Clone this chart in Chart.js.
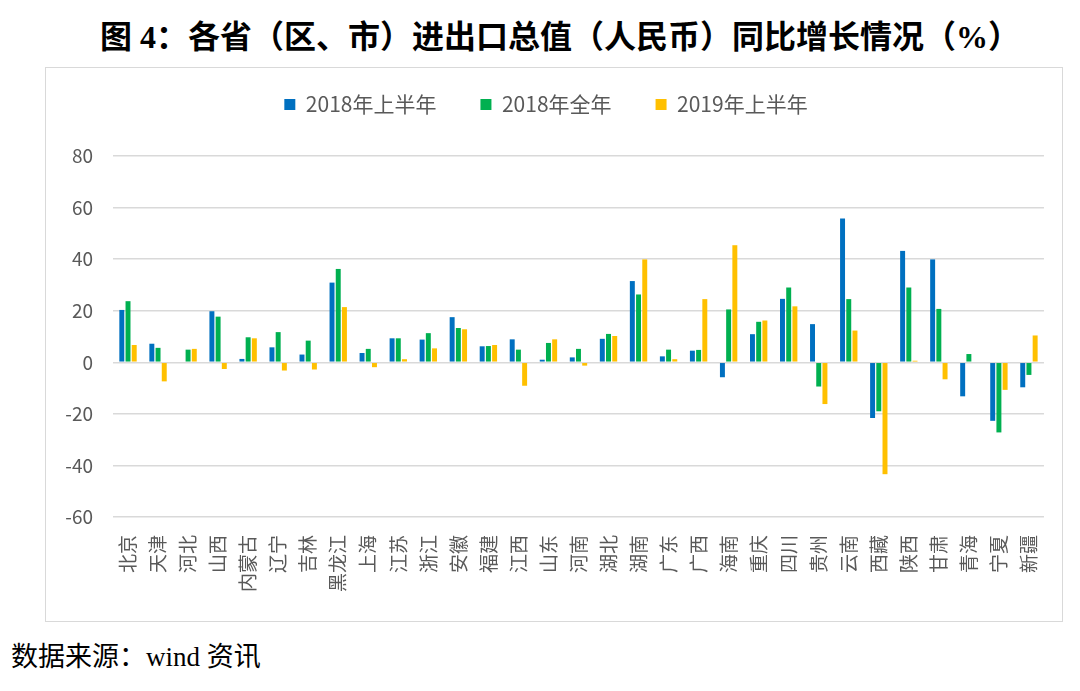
<!DOCTYPE html>
<html>
<head>
<meta charset="utf-8">
<script src="https://cdn.jsdelivr.net/npm/chart.js@4"></script>
<style>
  body { margin: 0; background: #fff; width: 1080px; height: 691px; position: relative; overflow: hidden; }
  #title { position: absolute; left: 0; width: 1120px; top: 11px; text-align: center;
           font-family: "Liberation Serif", "Noto Sans CJK SC"; font-weight: bold; font-size: 32px; color: #000; }
  #box { position: absolute; left: 45px; top: 67px; width: 1016px; height: 553px; border: 1px solid #d9d9d9; }
  #wrap { position: absolute; left: 0; top: -18px; width: 1016px; height: 571px; }
  #source { position: absolute; left: 11px; top: 635px; font-family: "Liberation Serif", "Noto Sans CJK SC"; font-size: 27px; color: #000; }
</style>
</head>
<body>
<div id="title">图 4：各省（区、市）进出口总值（人民币）同比增长情况（%）</div>
<div id="box"><div id="wrap"><canvas id="chart"></canvas></div></div>
<div id="source">数据来源：wind 资讯</div>
<script>
// categories and series (%)
const provinces = ['北京', '天津', '河北', '山西', '内蒙古', '辽宁', '吉林', '黑龙江', '上海', '江苏', '浙江',
  '安徽', '福建', '江西', '山东', '河南', '湖北', '湖南', '广东', '广西', '海南', '重庆', '四川', '贵州',
  '云南', '西藏', '陕西', '甘肃', '青海', '宁夏', '新疆'];
const h1_2018 = [20.3, 7.2, 0, 19.8, 1.3, 5.8, 3.0, 30.9, 3.6, 9.3, 8.8, 17.5, 6.2, 8.9, 1.0, 1.9, 9.1, 31.5,
  2.3, 4.5, -5.8, 10.9, 24.6, 14.8, 55.8, -21.6, 43.2, 39.9, -13.2, -22.7, -9.7];
const full_2018 = [23.7, 5.6, 4.9, 17.7, 9.7, 11.7, 8.4, 36.2, 5.2, 9.3, 11.3, 13.3, 6.3, 4.9, 7.5, 5.2, 11.0, 26.3,
  4.9, 4.8, 20.5, 15.7, 29.0, -9.4, 24.5, -19.0, 29.0, 20.7, 3.2, -27.2, -4.9];
const h1_2019 = [6.7, -7.4, 5.2, -2.6, 9.3, -3.2, -2.8, 21.4, -1.9, 1.2, 5.4, 12.8, 6.7, -9.1, 8.9, -1.3, 10.2, 39.9,
  1.2, 24.5, 45.4, 16.2, 21.7, -16.2, 12.3, -43.4, 0.6, -6.6, 0, -10.7, 10.4];
const seriesNames = ['2018年上半年', '2018年全年', '2019年上半年'];
const yTicks = [-60, -40, -20, 0, 20, 40, 60, 80];

const colors = ['#0070C0', '#00B050', '#FFC000'];
const cjk = '"Noto Sans CJK SC", sans-serif';

// push the plot area down below the legend
const legendGap = {
  id: 'legendGap',
  beforeInit(chart) {
    const fit = chart.legend.fit;
    chart.legend.fit = function () {
      fit.bind(chart.legend)();
      this.height += 31;
    };
  }
};

const ctx = document.getElementById('chart').getContext('2d');
new Chart(ctx, {
  type: 'bar',
  data: {
    labels: provinces,
    datasets: [h1_2018, full_2018, h1_2019].map((d, i) => ({
      label: seriesNames[i],
      data: d,
      backgroundColor: colors[i],
      borderWidth: 0,
      categoryPercentage: 0.62,
      barPercentage: 0.8
    }))
  },
  options: {
    responsive: true,
    maintainAspectRatio: false,
    animation: false,
    layout: { padding: { left: 0, right: 16, top: 0, bottom: 0 } },
    plugins: {
      legend: {
        position: 'top',
        labels: {
          boxWidth: 11, boxHeight: 11, padding: 44, color: '#595959',
          font: { family: cjk, size: 21 }
        }
      },
      tooltip: { enabled: false }
    },
    scales: {
      x: {
        grid: { display: false },
        border: { display: false },
        ticks: {
          color: '#595959', font: { family: cjk, size: 19 },
          minRotation: 90, maxRotation: 90, padding: 10, autoSkip: false
        },
        afterFit: axis => { axis.height = 104; }
      },
      y: {
        min: -60, max: 80,
        afterBuildTicks: axis => { axis.ticks = yTicks.map(v => ({ value: v })); },
        grid: { color: '#d9d9d9', lineWidth: 1.5, drawTicks: false },
        border: { display: false },
        ticks: { color: '#595959', font: { family: cjk, size: 19 }, padding: 20 },
        afterFit: axis => { axis.width = 67; }
      }
    }
  },
  plugins: [legendGap]
});
</script>
</body>
</html>
